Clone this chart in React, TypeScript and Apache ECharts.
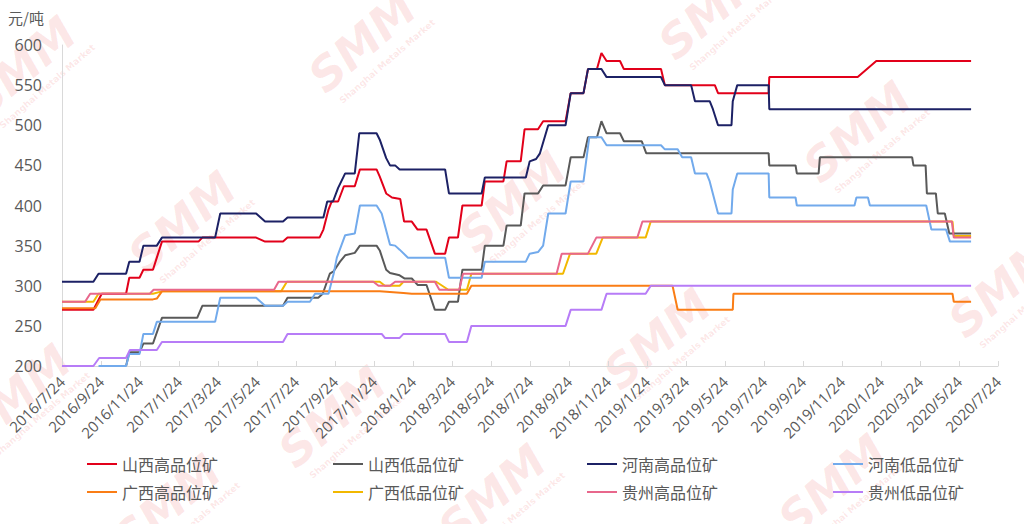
import React, { useEffect, useRef } from "react";
import * as echarts from "echarts";

type Pt = [string, number];

const START = Date.UTC(2016, 6, 24);
const DAYS_TOTAL = 1461;
const TICK_STEP = DAYS_TOTAL / 24;

const xTickLabels = [
  "2016/7/24", "2016/9/24", "2016/11/24", "2017/1/24", "2017/3/24", "2017/5/24",
  "2017/7/24", "2017/9/24", "2017/11/24", "2018/1/24", "2018/3/24", "2018/5/24",
  "2018/7/24", "2018/9/24", "2018/11/24", "2019/1/24", "2019/3/24", "2019/5/24",
  "2019/7/24", "2019/9/24", "2019/11/24", "2020/1/24", "2020/3/24", "2020/5/24",
  "2020/7/24",
];

const seriesNames = [
  "山西高品位矿", "山西低品位矿", "河南高品位矿", "河南低品位矿",
  "广西高品位矿", "广西低品位矿", "贵州高品位矿", "贵州低品位矿",
];

const shanxiHigh: Pt[] = [
  ["2016-07-24", 270], ["2016-09-11", 270], ["2016-09-24", 290], ["2016-11-01", 290], ["2016-11-06", 310],
  ["2016-11-22", 310], ["2016-11-28", 320], ["2016-12-13", 320], ["2016-12-19", 335], ["2016-12-27", 355],
  ["2017-02-22", 355], ["2017-02-28", 360], ["2017-05-23", 360], ["2017-06-06", 355], ["2017-07-04", 355],
  ["2017-07-11", 360], ["2017-08-30", 360], ["2017-09-05", 370], ["2017-09-13", 395], ["2017-09-18", 405],
  ["2017-09-28", 405], ["2017-10-07", 424], ["2017-10-24", 424], ["2017-11-01", 445], ["2017-11-27", 445],
  ["2017-12-02", 436], ["2017-12-12", 415], ["2017-12-21", 410], ["2018-01-03", 408], ["2018-01-09", 380],
  ["2018-01-21", 380], ["2018-01-30", 370], ["2018-02-13", 370], ["2018-02-26", 340], ["2018-03-14", 340],
  ["2018-03-20", 360], ["2018-04-03", 360], ["2018-04-10", 400], ["2018-05-10", 400], ["2018-05-15", 430],
  ["2018-06-13", 430], ["2018-06-18", 455], ["2018-07-10", 455], ["2018-07-16", 495], ["2018-08-06", 495],
  ["2018-08-14", 505], ["2018-09-18", 505], ["2018-09-26", 540], ["2018-10-16", 540], ["2018-10-23", 570],
  ["2018-11-06", 570], ["2018-11-13", 590], ["2018-11-21", 580], ["2018-12-12", 580], ["2018-12-18", 570],
  ["2019-02-14", 570], ["2019-02-20", 550], ["2019-05-09", 550], ["2019-05-14", 540], ["2019-08-01", 540],
  ["2019-08-02", 560], ["2019-12-18", 560], ["2020-01-16", 580], ["2020-06-12", 580],
];

const shanxiLow: Pt[] = [
  ["2016-11-01", 200], ["2016-11-06", 217], ["2016-11-22", 217], ["2016-11-28", 228], ["2016-12-13", 228],
  ["2016-12-27", 260], ["2017-02-20", 260], ["2017-02-28", 275], ["2017-07-04", 275], ["2017-07-11", 285],
  ["2017-08-28", 285], ["2017-09-04", 290], ["2017-09-15", 315], ["2017-09-21", 318], ["2017-10-01", 330],
  ["2017-10-09", 338], ["2017-10-24", 341], ["2017-11-01", 350], ["2017-11-27", 350], ["2017-12-02", 344],
  ["2017-12-12", 320], ["2017-12-18", 316], ["2018-01-02", 313], ["2018-01-10", 309], ["2018-01-21", 309],
  ["2018-01-30", 301], ["2018-02-13", 301], ["2018-02-26", 270], ["2018-03-14", 270], ["2018-03-20", 280],
  ["2018-04-03", 280], ["2018-04-10", 320], ["2018-05-10", 320], ["2018-05-15", 350], ["2018-06-13", 350],
  ["2018-06-18", 375], ["2018-07-10", 375], ["2018-07-16", 415], ["2018-08-06", 415], ["2018-08-14", 425],
  ["2018-09-18", 425], ["2018-09-26", 460], ["2018-10-16", 460], ["2018-10-23", 485], ["2018-11-06", 485],
  ["2018-11-13", 505], ["2018-11-21", 490], ["2018-12-12", 490], ["2018-12-18", 480], ["2019-01-15", 480],
  ["2019-01-22", 465], ["2019-08-01", 465], ["2019-08-02", 450], ["2019-09-12", 450], ["2019-09-14", 440],
  ["2019-10-18", 440], ["2019-10-20", 460], ["2020-03-12", 460], ["2020-03-14", 450], ["2020-04-02", 450],
  ["2020-04-04", 415], ["2020-04-18", 415], ["2020-04-21", 390], ["2020-05-02", 390], ["2020-05-09", 365],
  ["2020-06-12", 365],
];

const henanHigh: Pt[] = [
  ["2016-07-24", 305], ["2016-09-11", 305], ["2016-09-19", 315], ["2016-11-01", 315], ["2016-11-06", 330],
  ["2016-11-22", 330], ["2016-11-28", 350], ["2016-12-19", 350], ["2016-12-27", 360], ["2017-03-20", 360],
  ["2017-03-28", 390], ["2017-05-23", 390], ["2017-06-06", 380], ["2017-07-04", 380], ["2017-07-11", 385],
  ["2017-09-05", 385], ["2017-09-11", 405], ["2017-09-20", 405], ["2017-09-28", 422], ["2017-10-09", 440],
  ["2017-10-24", 440], ["2017-10-31", 490], ["2017-11-27", 490], ["2017-12-02", 482], ["2017-12-12", 459],
  ["2017-12-18", 450], ["2017-12-26", 450], ["2018-01-02", 445], ["2018-03-14", 445], ["2018-03-20", 415],
  ["2018-05-10", 415], ["2018-05-15", 435], ["2018-07-18", 435], ["2018-07-24", 455], ["2018-08-03", 458],
  ["2018-08-09", 465], ["2018-08-22", 500], ["2018-09-18", 500], ["2018-09-26", 540], ["2018-10-16", 540],
  ["2018-10-23", 570], ["2018-11-13", 570], ["2018-11-21", 560], ["2019-02-14", 560], ["2019-02-20", 550],
  ["2019-04-02", 550], ["2019-04-08", 530], ["2019-05-01", 530], ["2019-05-06", 520], ["2019-05-14", 500],
  ["2019-06-04", 500], ["2019-06-06", 530], ["2019-06-13", 550], ["2019-08-01", 550], ["2019-08-02", 520],
  ["2020-06-12", 520],
];

const henanLow: Pt[] = [
  ["2016-09-19", 200], ["2016-11-01", 200], ["2016-11-06", 215], ["2016-11-22", 215], ["2016-11-28", 240],
  ["2016-12-13", 240], ["2016-12-19", 255], ["2017-03-20", 255], ["2017-03-28", 285], ["2017-05-23", 285],
  ["2017-06-06", 275], ["2017-07-04", 275], ["2017-07-11", 280], ["2017-08-15", 280], ["2017-08-23", 290],
  ["2017-09-13", 290], ["2017-09-21", 315], ["2017-09-26", 335], ["2017-10-09", 363], ["2017-10-24", 365],
  ["2017-11-01", 400], ["2017-11-27", 400], ["2017-12-05", 390], ["2017-12-18", 351], ["2017-12-26", 350],
  ["2018-01-02", 345], ["2018-01-15", 335], ["2018-03-14", 335], ["2018-03-20", 310], ["2018-05-10", 310],
  ["2018-05-15", 330], ["2018-07-18", 330], ["2018-07-24", 340], ["2018-08-06", 342], ["2018-08-14", 350],
  ["2018-08-22", 390], ["2018-09-18", 390], ["2018-09-26", 430], ["2018-10-16", 430], ["2018-10-25", 485],
  ["2018-11-13", 485], ["2018-11-21", 475], ["2019-02-14", 475], ["2019-02-20", 470], ["2019-03-12", 470],
  ["2019-03-19", 460], ["2019-04-02", 460], ["2019-04-08", 440], ["2019-04-26", 440], ["2019-05-01", 430],
  ["2019-05-14", 390], ["2019-06-04", 390], ["2019-06-06", 420], ["2019-06-13", 440], ["2019-08-01", 440],
  ["2019-08-02", 410], ["2019-09-12", 410], ["2019-09-14", 400], ["2019-12-13", 400], ["2019-12-16", 410],
  ["2020-01-03", 410], ["2020-01-06", 400], ["2020-04-03", 400], ["2020-04-11", 370], ["2020-05-04", 370],
  ["2020-05-10", 355], ["2020-06-12", 355],
];

const guangxiHigh: Pt[] = [
  ["2016-07-24", 272], ["2016-09-14", 272], ["2016-09-22", 283], ["2016-12-13", 283], ["2016-12-19", 284],
  ["2016-12-27", 293], ["2017-12-02", 293], ["2018-01-08", 291], ["2018-01-21", 290], ["2018-04-17", 290],
  ["2018-04-24", 300], ["2019-03-04", 300], ["2019-03-12", 270], ["2019-06-06", 270], ["2019-06-07", 290],
  ["2020-05-14", 290], ["2020-05-16", 280], ["2020-06-12", 280],
];

const guangxiLow: Pt[] = [
  ["2016-07-24", 280], ["2016-09-11", 280], ["2016-09-19", 290], ["2016-12-13", 290], ["2016-12-27", 293],
  ["2017-07-01", 293], ["2017-07-10", 305], ["2017-12-02", 305], ["2017-12-10", 300], ["2018-01-02", 300],
  ["2018-01-08", 305], ["2018-02-28", 305], ["2018-03-19", 295], ["2018-04-17", 295], ["2018-04-24", 315],
  ["2018-09-14", 315], ["2018-09-25", 340], ["2018-11-05", 340], ["2018-11-15", 360], ["2019-01-21", 360],
  ["2019-01-29", 380], ["2020-05-14", 380], ["2020-05-16", 362], ["2020-06-12", 362],
];

const guizhouHigh: Pt[] = [
  ["2016-07-24", 280], ["2016-08-29", 280], ["2016-09-06", 290], ["2016-12-08", 290], ["2016-12-14", 295],
  ["2017-06-20", 295], ["2017-06-27", 305], ["2017-11-22", 305], ["2017-11-30", 300], ["2017-12-18", 300],
  ["2017-12-26", 305], ["2018-02-26", 305], ["2018-03-05", 295], ["2018-04-05", 295], ["2018-04-11", 315],
  ["2018-09-04", 315], ["2018-09-12", 340], ["2018-10-23", 340], ["2018-11-05", 360], ["2019-01-08", 360],
  ["2019-01-16", 380], ["2020-05-13", 380], ["2020-05-16", 360], ["2020-06-12", 360],
];

const guizhouLow: Pt[] = [
  ["2016-07-24", 200], ["2016-09-11", 200], ["2016-09-20", 210], ["2016-11-01", 210], ["2016-11-07", 220],
  ["2016-12-19", 220], ["2016-12-27", 230], ["2017-07-04", 230], ["2017-07-11", 240], ["2017-12-05", 240],
  ["2017-12-10", 235], ["2018-01-02", 235], ["2018-01-08", 240], ["2018-03-14", 240], ["2018-03-20", 230],
  ["2018-04-17", 230], ["2018-04-24", 250], ["2018-09-18", 250], ["2018-09-26", 270], ["2018-11-13", 270],
  ["2018-11-21", 290], ["2019-01-21", 290], ["2019-01-29", 300], ["2020-06-12", 300],
];

const seriesData: Pt[][] = [
  shanxiHigh, shanxiLow, henanHigh, henanLow, guangxiHigh, guangxiLow, guizhouHigh, guizhouLow,
];

const seriesColors = [
  "#e2001a", "#595959", "#1c2165", "#72aaec", "#fa7d15", "#f2b800", "#e8678c", "#b77cf7",
];

// drawing order (z) so overlaps match the reference
const seriesZ = [2.1, 2.1, 2.2, 2.2, 2.15, 2.05, 2.2, 2.2];

const dayOf = (s: string) => {
  const [y, m, d] = s.split("-").map(Number);
  return (Date.UTC(y, m - 1, d) - START) / 86400000;
};

const watermarks: [number, number][] = [
  [25, 70], [365, 45], [715, 12], [185, 225], [515, 205], [860, 135],
  [20, 398], [335, 420], [660, 342], [1005, 290], [170, 508], [495, 498], [835, 488],
];

const WM_SIZE = 150;
const wmSvg =
  `<svg xmlns='http://www.w3.org/2000/svg' width='${WM_SIZE}' height='${WM_SIZE}'>` +
  `<g transform='translate(${WM_SIZE / 2},${WM_SIZE / 2}) rotate(-41)'>` +
  `<text x='0' y='12' text-anchor='middle' font-family='DejaVu Sans' font-weight='bold' font-style='italic' font-size='46' fill='rgb(236,70,70)' fill-opacity='0.13'>SMM</text>` +
  `<text x='6' y='30' text-anchor='middle' font-family='DejaVu Sans' font-weight='bold' font-size='9' fill='rgb(236,70,70)' fill-opacity='0.13'>Shanghai Metals Market</text>` +
  `</g></svg>`;
const wmUrl = "data:image/svg+xml;charset=utf-8," + encodeURIComponent(wmSvg);

const TEXT = "#595959";
const AXIS = "#d9d9d9";

export default function App() {
  const ref = useRef<HTMLDivElement>(null);

  useEffect(() => {
    if (!ref.current) return;
    const chart = echarts.init(ref.current, undefined, { renderer: "svg" });

    const legendCols = [82, 328, 582, 828];
    const legends = legendCols.map((left, c) => ({
      left,
      top: 451,
      orient: "vertical",
      itemGap: 12,
      icon: "rect",
      itemWidth: 30,
      itemHeight: 2,
      data: [seriesNames[c], seriesNames[c + 4]],
      textStyle: { color: TEXT, fontSize: 16, fontFamily: "Noto Sans CJK SC" },
    }));

    const wmGraphics = watermarks.map(([x, y]) => ({
      type: "image",
      x: x - WM_SIZE / 2,
      y: y - WM_SIZE / 2,
      silent: true,
      z: 0,
      style: { image: wmUrl, width: WM_SIZE, height: WM_SIZE },
    }));

    chart.setOption({
      animation: false,
      backgroundColor: "#ffffff",
      textStyle: { fontFamily: "'Open Sans', 'Noto Sans CJK SC', sans-serif" },
      grid: { left: 62, top: 45, right: 26, bottom: 158, containLabel: false },
      graphic: [
        ...wmGraphics,
        {
          type: "text",
          left: 8,
          top: 10,
          style: {
            text: "元/吨",
            fill: TEXT,
            font: "15px 'Noto Sans CJK SC'",
          },
        },
      ],
      legend: legends,
      xAxis: {
        type: "value",
        min: 0,
        max: DAYS_TOTAL,
        interval: TICK_STEP,
        axisLine: { show: true, lineStyle: { color: AXIS, width: 1 } },
        axisTick: { show: true, inside: true, length: 5, lineStyle: { color: AXIS } },
        splitLine: { show: false },
        axisLabel: {
          rotate: 45,
          margin: 13,
          color: TEXT,
          fontSize: 15,
          fontFamily: "'Open Sans', sans-serif",
          showMinLabel: true,
          showMaxLabel: true,
          formatter: (v: number) => xTickLabels[Math.round(v / TICK_STEP)] ?? "",
        },
      },
      yAxis: {
        type: "value",
        min: 200,
        max: 600,
        interval: 50,
        axisLine: { show: true, lineStyle: { color: AXIS, width: 1 } },
        axisTick: { show: false },
        splitLine: { show: false },
        axisLabel: {
          color: TEXT,
          fontSize: 16,
          margin: 20,
          fontFamily: "'Open Sans', sans-serif",
        },
      },
      series: seriesNames.map((name, i) => ({
        name,
        type: "line",
        symbol: "none",
        showSymbol: false,
        color: seriesColors[i],
        lineStyle: { width: 2, color: seriesColors[i] },
        data: seriesData[i].map(([d, v]) => [dayOf(d), v]),
        z: seriesZ[i],
      })),
    });

    return () => chart.dispose();
  }, []);

  return (
    <div
      ref={ref}
      style={{ position: "fixed", left: 0, top: 0, width: 1024, height: 524, background: "#fff" }}
    />
  );
}
